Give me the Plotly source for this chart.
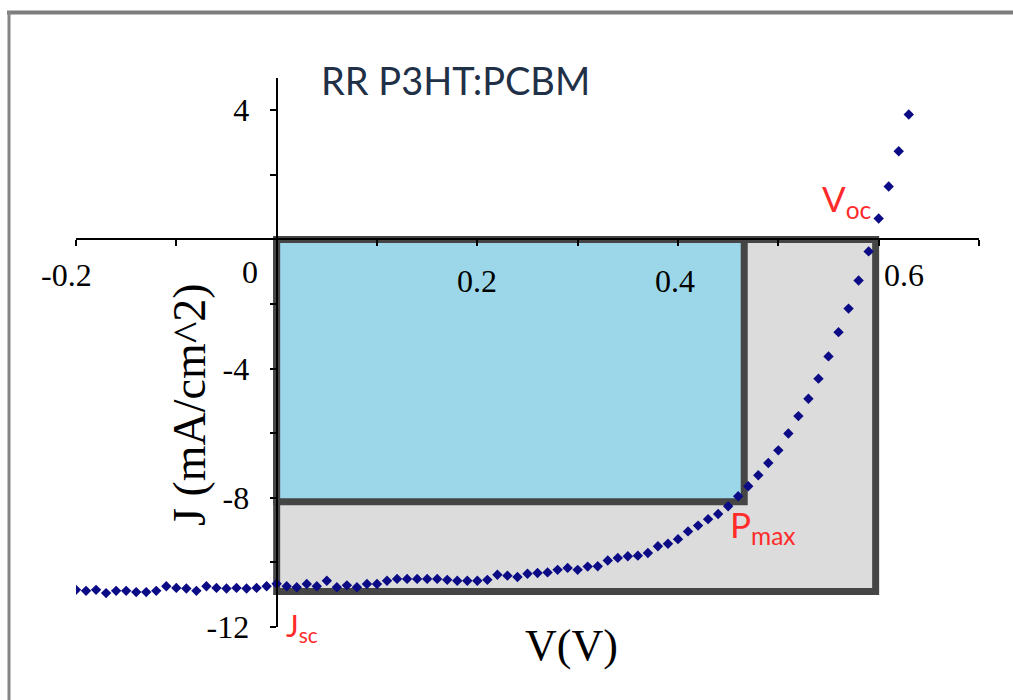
import plotly.graph_objects as go

# J-V sweep of an RR P3HT:PCBM cell
voltage = [
    -0.20, -0.19, -0.18, -0.17, -0.16, -0.15, -0.14, -0.13, -0.12, -0.11,
    -0.10, -0.09, -0.08, -0.07, -0.06, -0.05, -0.04, -0.03, -0.02, -0.01,
    0.00, 0.01, 0.02, 0.03, 0.04, 0.05, 0.06, 0.07, 0.08, 0.09,
    0.10, 0.11, 0.12, 0.13, 0.14, 0.15, 0.16, 0.17, 0.18, 0.19,
    0.20, 0.21, 0.22, 0.23, 0.24, 0.25, 0.26, 0.27, 0.28, 0.29,
    0.30, 0.31, 0.32, 0.33, 0.34, 0.35, 0.36, 0.37, 0.38, 0.39,
    0.40, 0.41, 0.42, 0.43, 0.44, 0.45, 0.46, 0.47, 0.48, 0.49,
    0.50, 0.51, 0.52, 0.53, 0.54, 0.55, 0.56, 0.57, 0.58, 0.59,
    0.60, 0.61, 0.62, 0.63,
]
current_density = [
    -10.85, -10.88, -10.85, -10.95, -10.88, -10.88, -10.92, -10.92, -10.88, -10.74,
    -10.79, -10.81, -10.88, -10.74, -10.79, -10.81, -10.79, -10.81, -10.79, -10.74,
    -10.66, -10.74, -10.77, -10.67, -10.74, -10.57, -10.77, -10.71, -10.77, -10.67,
    -10.67, -10.57, -10.51, -10.51, -10.51, -10.51, -10.51, -10.54, -10.57, -10.57,
    -10.57, -10.54, -10.38, -10.41, -10.45, -10.35, -10.33, -10.31, -10.23, -10.17,
    -10.23, -10.13, -10.12, -9.94, -9.86, -9.81, -9.79, -9.71, -9.50, -9.42,
    -9.28, -9.04, -8.86, -8.66, -8.50, -8.26, -7.95, -7.64, -7.30, -6.92,
    -6.53, -6.01, -5.47, -4.93, -4.31, -3.62, -2.87, -2.14, -1.27, -0.37,
    0.65, 1.64, 2.73, 3.87,
]

# characteristic operating points
v_oc = 0.597
j_sc = -10.9
v_mp = 0.466
j_mp = -8.12

x_tick_labels = ["-0.2", "0", "0.2", "0.4", "0.6"]
x_tick_values = [-0.2, 0.0, 0.2, 0.4, 0.6]
y_tick_values = [-12, -8, -4, 4]
y_tick_text = ["-12", "-8", "-4", "4"]
y_minor_values = [-10, -6, -2, 0, 2]

X_RANGE = [-0.2, 0.7]
Y_RANGE = [-12, 5]

serif = "Liberation Serif, Times New Roman, serif"
sans = "Lato, Open Sans, sans-serif"

fig = go.Figure()

fig.add_trace(go.Scatter(
    x=voltage, y=current_density, mode="markers",
    marker=dict(symbol="diamond", size=8, color="#0b0b85", line=dict(width=0)),
    hoverinfo="x+y", showlegend=False,
))

border = dict(color="#454545", width=7)
# Voc x Jsc box and the maximum power box
fig.add_shape(type="rect", xref="x", yref="y", x0=0, x1=v_oc, y0=j_sc, y1=0,
              fillcolor="#dcdcdc", line=border, layer="below")
fig.add_shape(type="rect", xref="x", yref="y", x0=0, x1=v_mp, y0=j_mp, y1=0,
              fillcolor="#9bd7e8", line=border, layer="below")

# pixel -> paper helpers for the page frame and free-floating labels
PLOT_L, PLOT_R, PLOT_T, PLOT_B = 76, 979, 78, 627
W, H = 1013, 700
def px_x(p):
    return (p - PLOT_L) / (PLOT_R - PLOT_L)
def px_y(p):
    return (PLOT_B - p) / (PLOT_B - PLOT_T)

# outer frame (top and left edges)
fig.add_shape(type="line", xref="paper", yref="paper",
              x0=px_x(7), x1=px_x(W + 5), y0=px_y(12.5), y1=px_y(12.5),
              line=dict(color="#7d7d7d", width=4))
fig.add_shape(type="line", xref="paper", yref="paper",
              x0=px_x(9), x1=px_x(9), y0=px_y(11), y1=px_y(H + 5),
              line=dict(color="#858585", width=3))

# x tick labels sit just under the axis
x_label_offsets = [(-10, -36), (-27, -33), (0, -42), (-3, -42), (25, -36)]
for val, txt, (dx, dy) in zip(x_tick_values, x_tick_labels, x_label_offsets):
    fig.add_annotation(x=val, y=0, xref="x", yref="y", text=txt, showarrow=False,
                       xshift=dx, yshift=dy, xanchor="center", yanchor="middle",
                       font=dict(family=serif, size=32, color="#000000"))

labels = [
    dict(text="RR P3HT:PCBM", px=455, py=80, size=38, color="#1f3047", family=sans,
         xanchor="center"),
    dict(text="V(V)", px=571, py=645, size=44, color="#000000", family=serif,
         xanchor="center"),
    dict(text="V<sub>oc</sub>", px=820, py=200, size=35, color="#ff2b2b", family=sans,
         xanchor="left"),
    dict(text="P<sub>max</sub>", px=728, py=526, size=35, color="#ff2b2b", family=sans,
         xanchor="left"),
    dict(text="J<sub>sc</sub>", px=284, py=627, size=30, color="#ff2b2b", family=sans,
         xanchor="left"),
]
for a in labels:
    fig.add_annotation(x=px_x(a["px"]), y=px_y(a["py"]), xref="paper", yref="paper",
                       text=a["text"], showarrow=False, xanchor=a["xanchor"],
                       yanchor="middle",
                       font=dict(family=a["family"], size=a["size"], color=a["color"]))

fig.add_annotation(x=px_x(189), y=px_y(405), xref="paper", yref="paper",
                   text="J (mA/cm^2)", textangle=-90, showarrow=False,
                   xanchor="center", yanchor="middle",
                   font=dict(family=serif, size=46, color="#000000"))

fig.update_layout(
    width=W, height=H,
    margin=dict(l=PLOT_L, r=W - PLOT_R, t=PLOT_T, b=H - PLOT_B, pad=0),
    paper_bgcolor="#ffffff", plot_bgcolor="rgba(0,0,0,0)",
    showlegend=False,
    xaxis=dict(
        range=X_RANGE, anchor="free",
        position=(0 - Y_RANGE[0]) / (Y_RANGE[1] - Y_RANGE[0]),
        showgrid=False, zeroline=False,
        showline=True, linecolor="#000000", linewidth=2,
        ticks="outside", tickmode="linear", tick0=-0.2, dtick=0.1,
        ticklen=6, tickwidth=2, tickcolor="#000000",
        showticklabels=False,
    ),
    yaxis=dict(
        range=Y_RANGE, anchor="free",
        position=(0 - X_RANGE[0]) / (X_RANGE[1] - X_RANGE[0]),
        showgrid=False, zeroline=False,
        showline=True, linecolor="#000000", linewidth=2,
        ticks="outside", tickmode="array", tickvals=y_tick_values, ticktext=y_tick_text,
        ticklen=6, tickwidth=2, tickcolor="#000000",
        minor=dict(tickmode="array", tickvals=y_minor_values, ticks="outside",
                   ticklen=6, tickwidth=2, tickcolor="#000000", showgrid=False),
        ticklabelstandoff=14,
        tickfont=dict(family=serif, size=32, color="#000000"),
    ),
)

fig.write_html("out.html")
